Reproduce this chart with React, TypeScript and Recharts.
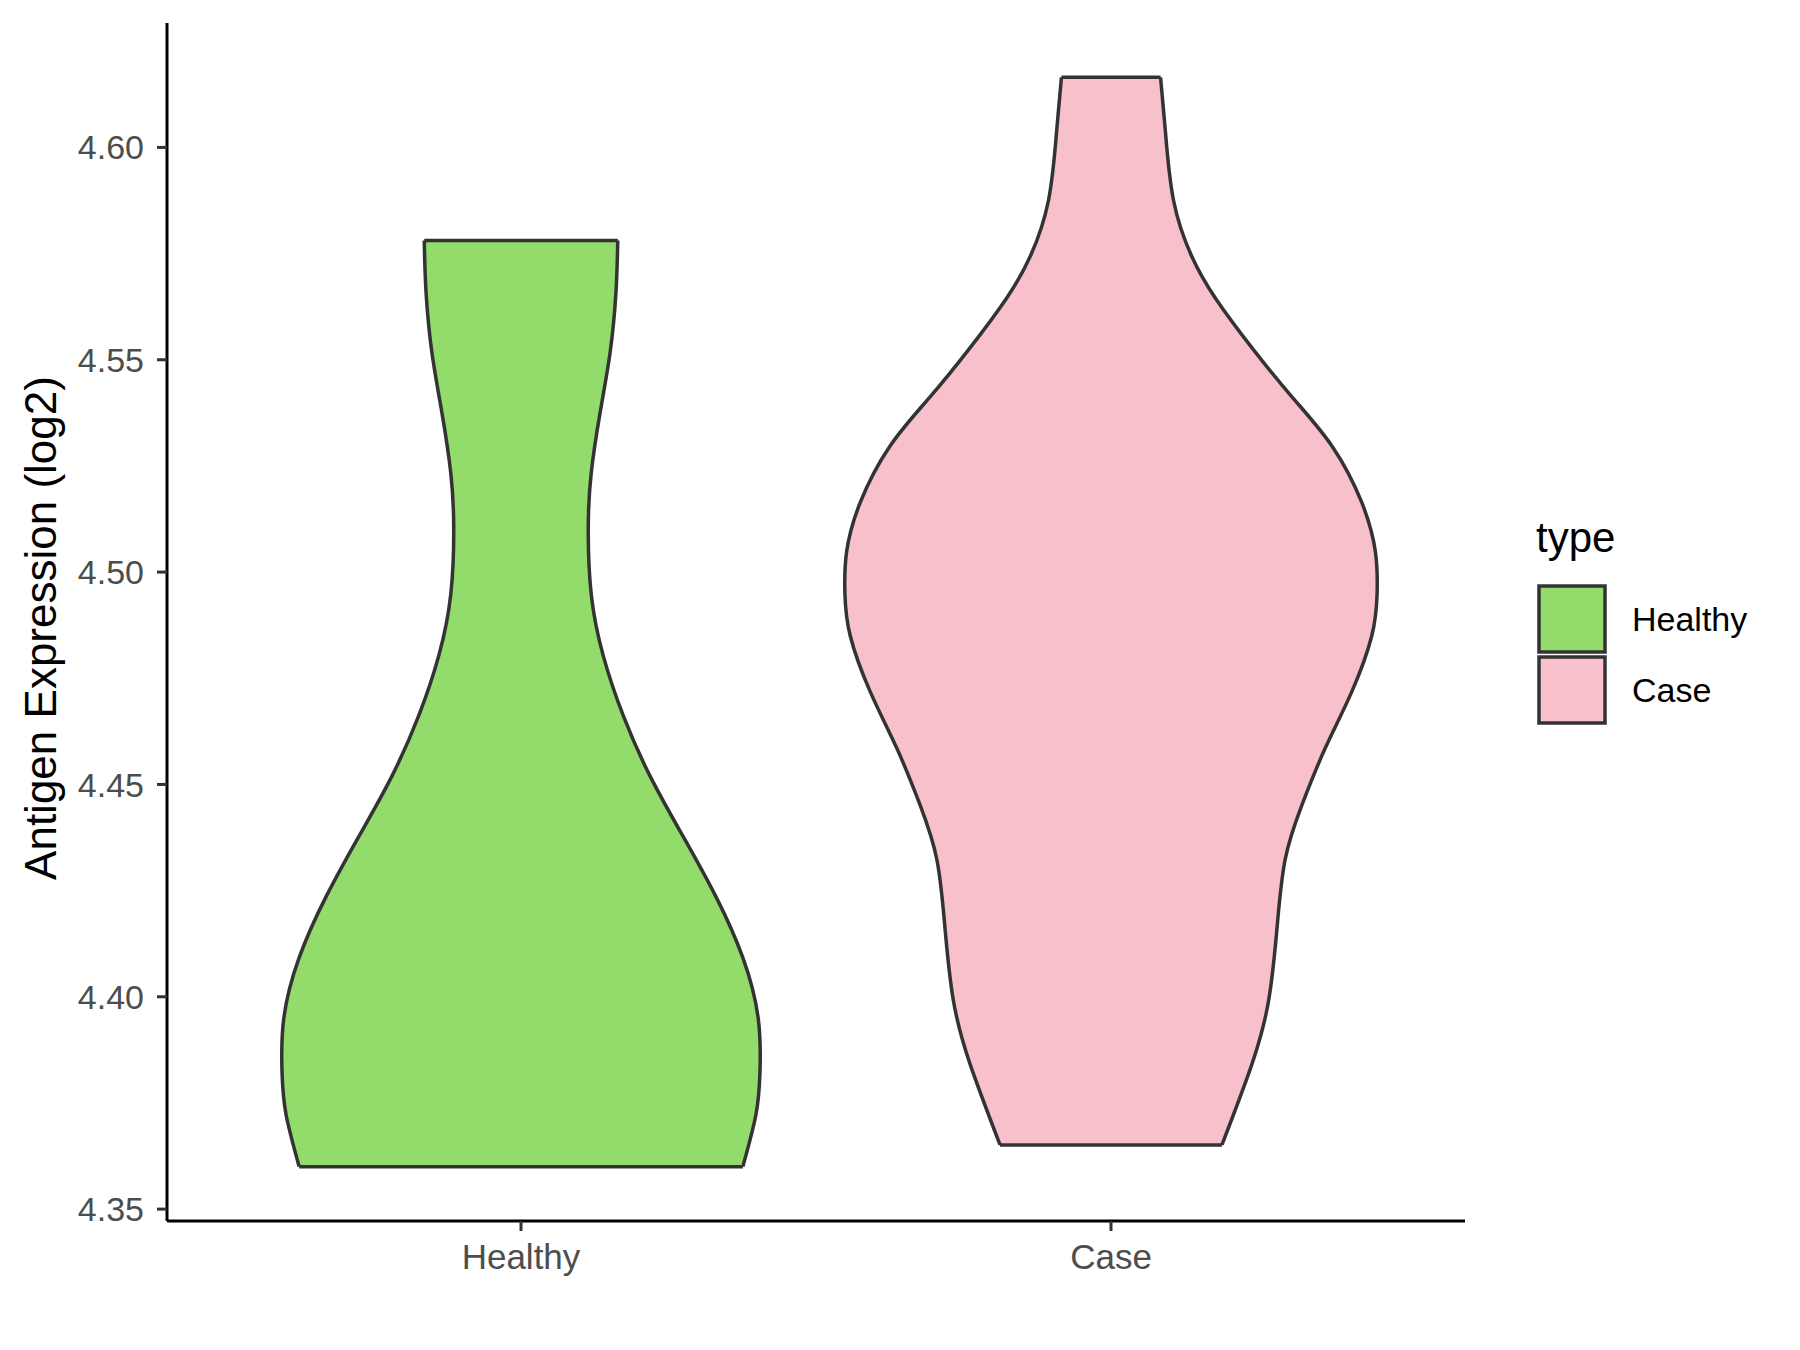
import { ComposedChart, Area, XAxis, YAxis, ReferenceLine, Legend, Label } from "recharts";

const categories = ["Healthy", "Case"];
const fills = ["#93DB6B", "#F7C0CB"];

// violin outline: expression value and half width (x units)
const healthyY = [4.36, 4.3721, 4.3821, 4.395, 4.4092, 4.4234, 4.4377, 4.4519, 4.4663, 4.4805, 4.4948, 4.5104, 4.5233, 4.5375, 4.5517, 4.566, 4.5781];
const healthyHalfWidth = [0.376, 0.398, 0.405, 0.402, 0.376, 0.331, 0.275, 0.219, 0.173, 0.139, 0.119, 0.114, 0.119, 0.134, 0.151, 0.161, 0.164];

const caseY = [4.3651, 4.3842, 4.399, 4.4156, 4.4322, 4.4453, 4.4585, 4.4718, 4.485, 4.4949, 4.5049, 4.5164, 4.5296, 4.5412, 4.5528, 4.5645, 4.5743, 4.5875, 4.6041, 4.6165];
const caseHalfWidth = [0.188, 0.239, 0.267, 0.281, 0.295, 0.324, 0.363, 0.408, 0.442, 0.451, 0.448, 0.425, 0.375, 0.307, 0.239, 0.177, 0.137, 0.106, 0.092, 0.084];

const yTicks = [4.35, 4.4, 4.45, 4.5, 4.55, 4.6];
const yDomain = [4.3472, 4.6293];
const xDomain = [0.4, 2.6];

const FONT = "'Liberation Sans', Arial, sans-serif";
const OUTLINE = "#333333";

const groups = [
  { name: categories[0], pos: 1, ys: healthyY, hw: healthyHalfWidth, fill: fills[0] },
  { name: categories[1], pos: 2, ys: caseY, hw: caseHalfWidth, fill: fills[1] },
];

const toRows = (pos: number, ys: number[], hw: number[]) =>
  ys.map((y, i) => ({ y, range: [pos - hw[i], pos + hw[i]] }));

const LegendBox = () => (
  <svg width={280} height={240} style={{ fontFamily: FONT }}>
    <text x={8} y={44} fontSize={42} fill="#000">type</text>
    {groups.map((g, i) => (
      <g key={g.name}>
        <rect x={11} y={78 + i * 71} width={66} height={66} fill={g.fill} stroke={OUTLINE} strokeWidth={3.5} />
        <text x={104} y={111 + i * 71} fontSize={34} fill="#000" dominantBaseline="central">{g.name}</text>
      </g>
    ))}
  </svg>
);

const YTitle = (props: any) => {
  const vb = props.viewBox;
  const cx = vb.x + 32;
  const cy = vb.y + vb.height / 2 + 6;
  return (
    <text x={cx} y={cy} transform={`rotate(-90, ${cx}, ${cy})`} textAnchor="middle" dominantBaseline="central"
      fontSize={44} fill="#000" fontFamily={FONT}>
      Antigen Expression (log2)
    </text>
  );
};

export default function App() {
  return (
    <div style={{ position: "relative", width: 1784, height: 1334, fontFamily: FONT }}>
      <ComposedChart width={1784} height={1334} layout="vertical" margin={{ top: 15, right: 327, bottom: 61, left: 0 }}>
        <XAxis
          type="number"
          domain={xDomain}
          allowDataOverflow
          ticks={[1, 2]}
          interval={0}
          tickFormatter={(v: number) => categories[v - 1]}
          height={60}
          tickSize={10}
          tickMargin={13}
          axisLine={{ stroke: "#000", strokeWidth: 3 }}
          tickLine={{ stroke: OUTLINE, strokeWidth: 3 }}
          tick={{ fill: "#4D4D4D", fontSize: 35, fontFamily: FONT }}
        />
        <YAxis
          type="number"
          dataKey="y"
          domain={yDomain}
          allowDataOverflow
          reversed
          ticks={yTicks}
          interval={0}
          tickFormatter={(v: number) => v.toFixed(2)}
          width={159}
          tickSize={10}
          tickMargin={13}
          axisLine={{ stroke: "#000", strokeWidth: 3 }}
          tickLine={{ stroke: OUTLINE, strokeWidth: 3 }}
          tick={{ fill: "#4D4D4D", fontSize: 34, fontFamily: FONT }}
        >
          <Label content={YTitle} />
        </YAxis>
        {groups.map((g) => (
          <Area
            key={g.name}
            name={g.name}
            data={toRows(g.pos, g.ys, g.hw)}
            dataKey="range"
            type="natural"
            fill={g.fill}
            fillOpacity={1}
            stroke={OUTLINE}
            strokeWidth={3.5}
            strokeLinejoin="round"
            dot={false}
            activeDot={false}
            isAnimationActive={false}
          />
        ))}
        {groups.map((g) => {
          const last = g.ys.length - 1;
          return [0, last].map((i) => (
            <ReferenceLine
              key={`${g.name}-${i}`}
              segment={[
                { x: g.pos - g.hw[i], y: g.ys[i] },
                { x: g.pos + g.hw[i], y: g.ys[i] },
              ]}
              stroke={OUTLINE}
              strokeWidth={3.5}
            />
          ));
        })}
        <Legend
          layout="vertical"
          align="center"
          verticalAlign="middle"
          wrapperStyle={{ left: 1520, top: 500, width: 280, height: 240 }}
          content={() => <LegendBox />}
        />
      </ComposedChart>
    </div>
  );
}
